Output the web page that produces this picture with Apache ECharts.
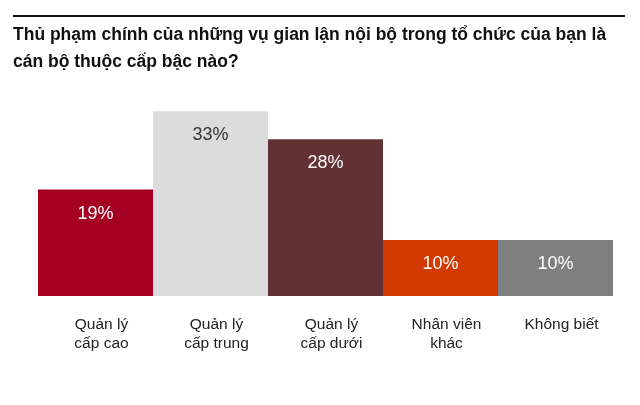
<!DOCTYPE html>
<html>
<head>
<meta charset="utf-8">
<script src="https://cdn.jsdelivr.net/npm/echarts@6/dist/echarts.min.js"></script>
<style>
html,body{margin:0;padding:0;background:#fff;}
#chart{width:640px;height:405px;}
</style>
</head>
<body>
<div id="chart"></div>
<script>
const titleText = 'Thủ phạm chính của những vụ gian lận nội bộ trong tổ chức của bạn là\ncán bộ thuộc cấp bậc nào?';
const categories = ['Quản lý\ncấp cao', 'Quản lý\ncấp trung', 'Quản lý\ncấp dưới', 'Nhân viên\nkhác', 'Không biết'];
const values = [19, 33, 28, 10, 10];
const barColors = ['#A50021', '#DCDCDC', '#633133', '#D13A00', '#7F7F7F'];
const labelColors = ['#ffffff', '#333333', '#ffffff', '#ffffff', '#ffffff'];

const chart = echarts.init(document.getElementById('chart'), null, {renderer: 'canvas'});
const font = '"Liberation Sans", Arial, sans-serif';

chart.setOption({
  animation: false,
  backgroundColor: '#ffffff',
  title: {
    text: titleText,
    left: 8,
    top: 17,
    textStyle: {fontFamily: font, fontSize: 17.5, fontWeight: 'bold', color: '#111', lineHeight: 27}
  },
  graphic: [{
    type: 'rect',
    shape: {x: 13, y: 15, width: 612, height: 2},
    style: {fill: '#111'}
  }],
  grid: {left: 38, right: 27, top: 72, bottom: 109, containLabel: false},
  xAxis: {
    type: 'category',
    data: categories,
    axisLine: {show: false},
    axisTick: {show: false},
    axisLabel: {
      fontFamily: font, fontSize: 15.5, color: '#222', lineHeight: 19,
      margin: 19, padding: [0, 0, 0, 12], interval: 0
    }
  },
  yAxis: {
    type: 'value',
    min: 0,
    max: 40,
    show: false,
    splitLine: {show: false}
  },
  series: [{
    type: 'bar',
    barCategoryGap: 0,
    data: values.map((v, i) => ({
      value: v,
      itemStyle: {color: barColors[i]},
      label: {color: labelColors[i]}
    })),
    label: {
      show: true,
      position: 'insideTop',
      distance: 15,
      formatter: '{c}%',
      fontFamily: font,
      fontSize: 18
    }
  }]
});
</script>
</body>
</html>
